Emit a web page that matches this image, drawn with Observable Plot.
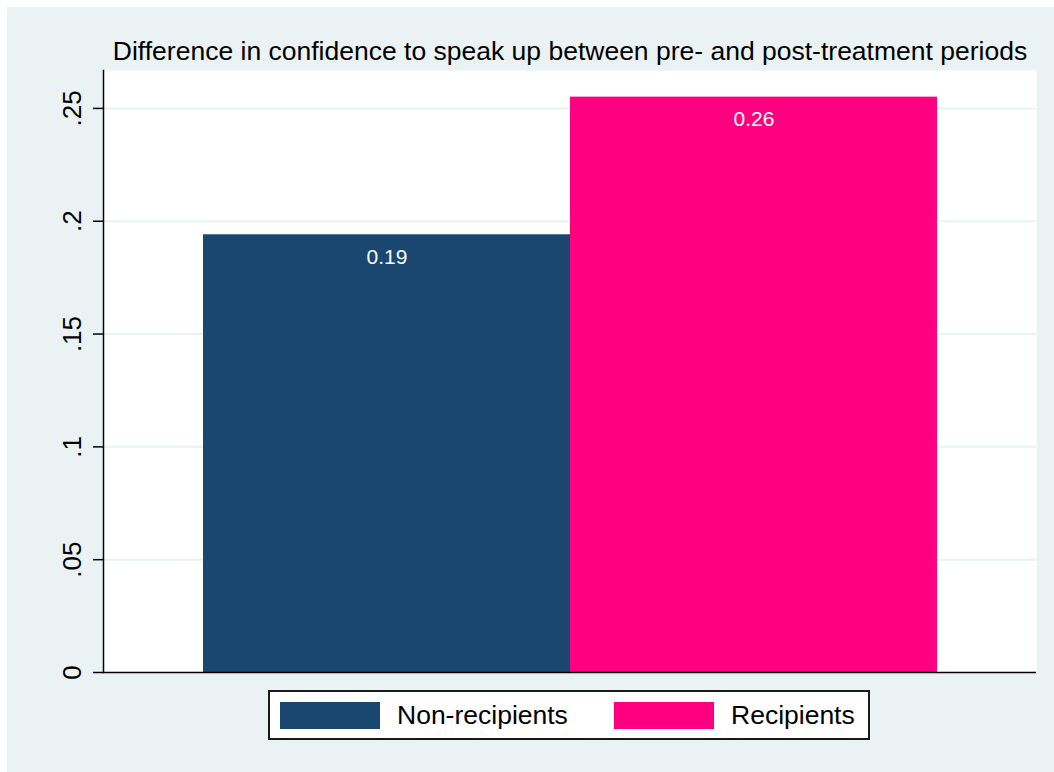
<!DOCTYPE html>
<html>
<head>
<meta charset="utf-8">
<script src="https://cdn.jsdelivr.net/npm/d3@7"></script>
<script src="https://cdn.jsdelivr.net/npm/@observablehq/plot@0.6"></script>
<style>
  html, body { margin: 0; padding: 0; background: #ffffff; }
  body { width: 1054px; height: 772px; position: relative; overflow: hidden;
         font-family: "Liberation Sans", Arial, Helvetica, sans-serif; }
  #bg { position: absolute; left: 7px; top: 7px; width: 1047px; height: 765px; background: #EAF2F3; }
  #chart { position: absolute; left: 0; top: 0; }
  #legend { position: absolute; left: 268px; top: 690px; width: 598px; height: 46px;
            background: #fff; border: 2px solid #1a1a1a; box-sizing: content-box; }
  .item { position: absolute; top: 0; height: 46px; display: flex; align-items: center; }
  .sw { width: 100px; height: 27px; margin-right: 17px; }
  .lab { font-size: 26.5px; color: #000; }
</style>
</head>
<body>
<div id="bg"></div>
<div id="chart"></div>
<div id="legend"></div>
<script>
const title = "Difference in confidence to speak up between pre- and post-treatment periods";
const groups = ["Non-recipients", "Recipients"];
const values = [0.194, 0.255];
const valueLabels = ["0.19", "0.26"];
const colors = ["#1A476F", "#FF0080"];
const yTicks = [0, 0.05, 0.1, 0.15, 0.2, 0.25];
const yTickLabels = ["0", ".05", ".1", ".15", ".2", ".25"];
const yMax = 0.2668;

const data = groups.map((g, i) => ({group: g, value: values[i], label: valueLabels[i]}));

const chart = Plot.plot({
  width: 1054,
  height: 680,
  marginTop: 70,
  marginBottom: 8,
  marginLeft: 103,
  marginRight: 18,
  style: {background: "transparent", fontFamily: "'Liberation Sans', Arial, Helvetica, sans-serif"},
  x: {type: "band", domain: groups, paddingInner: 0, paddingOuter: 0.271, axis: null},
  y: {domain: [0, yMax], axis: null},
  color: {domain: groups, range: colors},
  marks: [
    Plot.frame({fill: "#ffffff", stroke: "none"}),
    Plot.ruleY(yTicks.slice(1), {stroke: "#EAF2F3", strokeWidth: 2}),
    Plot.barY(data, {x: "group", y: "value", fill: "group"}),
    Plot.text(data, {x: "group", y: "value", text: "label", fill: "#ffffff", fontSize: 21, dy: 22.3}),
    Plot.axisY(yTicks, {
      label: null,
      tickFormat: (d) => yTickLabels[yTicks.indexOf(d)],
      tickRotate: -90, tickSize: 10, tickPadding: 13, fontSize: 26,
      stroke: "#000", strokeWidth: 1.5, fill: "#000", textAnchor: "middle"
    }),
    Plot.ruleY([0], {stroke: "#000", strokeWidth: 1.5}),
    Plot.frame({anchor: "left", stroke: "#000", strokeWidth: 1.5}),
    Plot.text([title], {frameAnchor: "top", dy: -11, lineAnchor: "bottom", fontSize: 26.5, fill: "#000"})
  ]
});
document.getElementById("chart").appendChild(chart);

const legend = document.getElementById("legend");
const lefts = [10, 344];
groups.forEach((g, i) => {
  const item = document.createElement("div");
  item.className = "item";
  item.style.left = lefts[i] + "px";
  const sw = document.createElement("div");
  sw.className = "sw";
  sw.style.background = colors[i];
  const lab = document.createElement("span");
  lab.className = "lab";
  lab.textContent = g;
  item.appendChild(sw);
  item.appendChild(lab);
  legend.appendChild(item);
});
</script>
</body>
</html>
